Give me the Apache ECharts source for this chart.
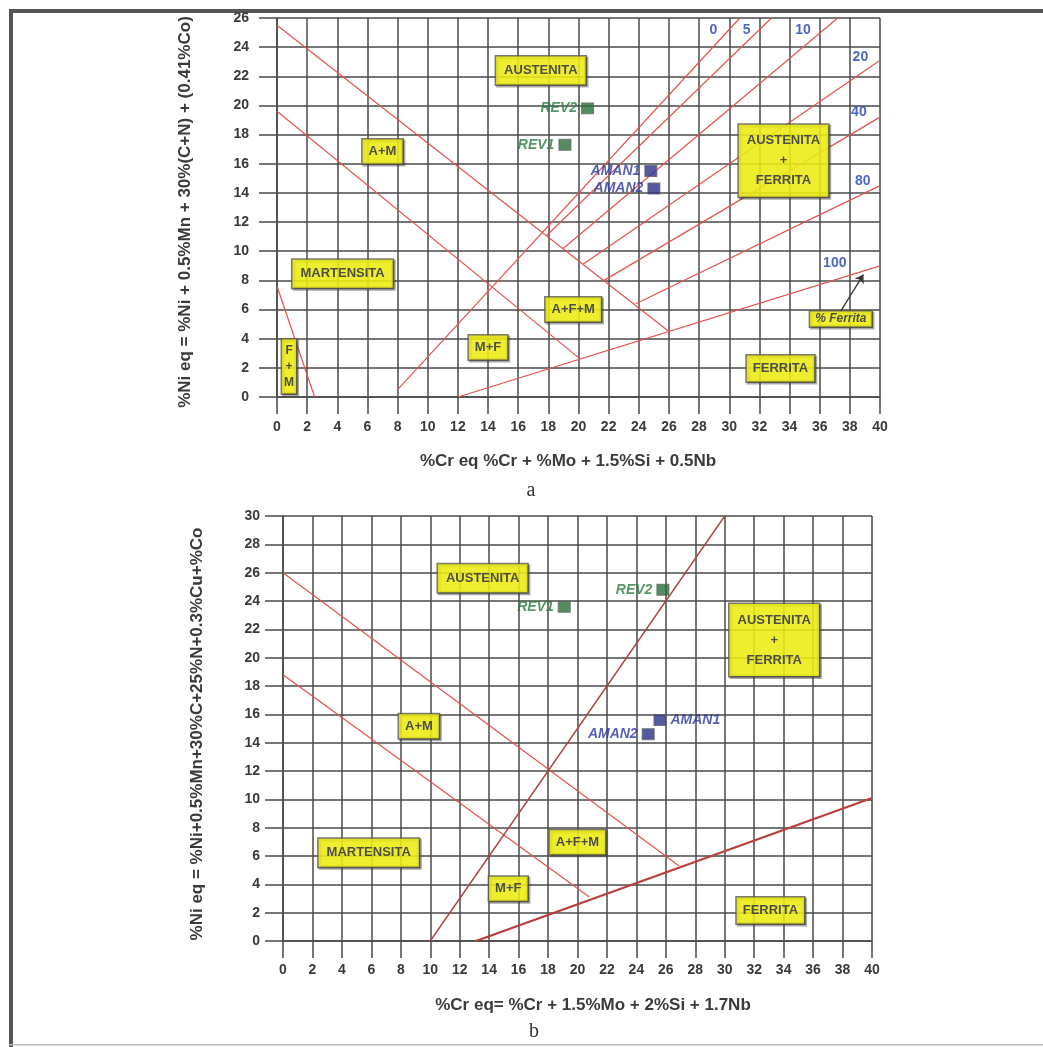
<!DOCTYPE html>
<html><head><meta charset="utf-8">
<script src="https://cdn.jsdelivr.net/npm/echarts@6/dist/echarts.min.js"></script>
<style>html,body{margin:0;padding:0;background:#fff}#c{width:1043px;height:1047px}</style>
</head><body><div id="c"></div>
<script>
// ---------- axis ranges / ticks ----------
const xMin = 0, xMax = 40, xStep = 2;
const topYMax = 26, bottomYMax = 30, yStep = 2;

// ---------- chart a (top) boundary lines [x,y] ----------
const topUpperBoundary = [[0, 25.5], [26, 4.5]];
const topLowerBoundary = [[0, 19.6], [20, 2.7]];
const topFMBoundary = [[0, 7.6], [2.5, 0]];
const topFerrite0 = [[8, 0.5], [30.7, 26]];
const topFerrite5 = [[17.9, 11.1], [32.8, 26]];
const topFerrite10 = [[19.0, 10.2], [37.2, 26]];
const topFerrite20 = [[20.3, 9.1], [40, 23.1]];
const topFerrite40 = [[21.7, 8.0], [40, 19.2]];
const topFerrite80 = [[23.8, 6.4], [40, 14.5]];
const topFerrite100 = [[12, 0], [40, 9.0]];
const topArrow = [[37.4, 5.9], [38.9, 8.4]];

// ferrite % labels (chart a)
const ferriteLevels = ['0', '5', '10', '20', '40', '80', '100'];
const ferriteLabelX = [28.95, 31.15, 34.9, 38.7, 38.6, 38.85, 37.0];
const ferriteLabelY = [25.2, 25.2, 25.2, 23.3, 19.55, 14.8, 9.2];

// samples
const sampleNames = ['REV1', 'REV2', 'AMAN1', 'AMAN2'];
const topSampleX = [19.1, 20.6, 24.8, 25.0];
const topSampleY = [17.3, 19.8, 15.5, 14.3];
const bottomSampleX = [19.1, 25.8, 25.6, 24.8];
const bottomSampleY = [23.6, 24.8, 15.6, 14.6];

// region labels chart a
const topRegionNames = ['AUSTENITA', 'A+M', 'AUSTENITA\n+\nFERRITA', 'MARTENSITA', 'F\n+\nM', 'M+F', 'A+F+M', 'FERRITA', '% Ferrita'];
const topRegionX = [17.5, 7.0, 33.6, 4.35, 0.8, 14.0, 19.65, 33.4, 37.4];
const topRegionY = [22.4, 16.85, 16.2, 8.45, 2.1, 3.4, 6.0, 1.95, 5.35];

// ---------- chart b (bottom) ----------
const bottomUpperBoundary = [[0, 26], [26.9, 5.3]];
const bottomLowerBoundary = [[0, 18.8], [20.8, 3.1]];
const bottomSteepBoundary = [[10, 0], [30, 30]];
const bottomFerriteBoundary = [[13.1, 0], [40, 10.1]];

const bottomRegionNames = ['AUSTENITA', 'AUSTENITA\n+\nFERRITA', 'A+M', 'MARTENSITA', 'A+F+M', 'M+F', 'FERRITA'];
const bottomRegionX = [13.56, 33.36, 9.23, 5.82, 20.0, 15.3, 33.1];
const bottomRegionY = [25.6, 21.24, 15.16, 6.23, 6.97, 3.68, 2.16];

// ---------- texts ----------
const topXTitle = '%Cr eq %Cr + %Mo + 1.5%Si + 0.5Nb';
const topYTitle = '%Ni eq = %Ni + 0.5%Mn + 30%(C+N) + (0.41%Co)';
const bottomXTitle = '%Cr eq= %Cr + 1.5%Mo + 2%Si + 1.7Nb';
const bottomYTitle = '%Ni eq = %Ni+0.5%Mn+30%C+25%N+0.3%Cu+%Co';

// ---------- styles ----------
const gridColor = '#4a4a4a';
const redLine = '#e2544e';
const sans = '"Liberation Sans", Arial, sans-serif';

function axisX(gi, labelMargin) {
  return {
    type: 'value', gridIndex: gi, min: xMin, max: xMax, interval: xStep,
    axisLine: { show: true, lineStyle: { color: gridColor, width: 1.5 } },
    axisTick: { show: true, length: 17, lineStyle: { color: gridColor, width: 1.5 } },
    splitLine: { show: true, lineStyle: { color: gridColor, width: 1.5 } },
    axisLabel: { margin: labelMargin, color: '#3a3a3a', fontFamily: sans, fontWeight: 'bold', fontSize: 14 }
  };
}
function axisY(gi, max, labelMargin) {
  return {
    type: 'value', gridIndex: gi, min: 0, max: max, interval: yStep,
    axisLine: { show: true, lineStyle: { color: gridColor, width: 1.5 } },
    axisTick: { show: true, length: 18, lineStyle: { color: gridColor, width: 1.5 } },
    splitLine: { show: true, lineStyle: { color: gridColor, width: 1.5 } },
    axisLabel: { margin: labelMargin, color: '#3a3a3a', fontFamily: sans, fontWeight: 'bold', fontSize: 14 }
  };
}

function lineSeries(data, gi, color, width) {
  return {
    type: 'line', xAxisIndex: gi, yAxisIndex: gi, data: data, symbol: 'none',
    silent: true, z: 3, animation: false,
    lineStyle: { color: color, width: width }
  };
}

const boxLabel = {
  show: true, position: 'inside', formatter: '{b}', color: '#25254f',
  fontFamily: sans, fontWeight: 'bold', fontSize: 13, lineHeight: 16, align: 'center',
  backgroundColor: '#ffff10', borderColor: '#5a5a48', borderWidth: 1.5, padding: [6, 8],
  shadowColor: 'rgba(60,60,60,0.55)', shadowOffsetX: 1.5, shadowOffsetY: 1.5, shadowBlur: 0
};

function regionItem(name, x, y) {
  const item = { name: name, value: [x, y] };
  if (name.indexOf('\n+\n') >= 0 && name.length > 6) {
    item.label = { lineHeight: 20, padding: [6, 8] };
  } else if (name === 'F\n+\nM') {
    item.label = { lineHeight: 16, padding: [3, 2], fontSize: 12 };
  } else if (name === '% Ferrita') {
    item.label = { fontStyle: 'italic', fontSize: 12, lineHeight: 13, padding: [1, 5] };
  } else if (name === 'FERRITA') {
    item.label = { padding: [5, 6] };
  } else if (name === 'A+M' || name === 'M+F' || name === 'A+F+M') {
    item.label = { padding: [4, 6] };
  }
  return item;
}

function regionSeries(names, xs, ys, gi) {
  return {
    type: 'scatter', xAxisIndex: gi, yAxisIndex: gi, symbol: 'rect', symbolSize: 1,
    itemStyle: { color: 'rgba(0,0,0,0)' }, silent: true, z: 6,
    data: names.map((n, i) => regionItem(n, xs[i], ys[i])),
    label: boxLabel
  };
}

function sampleSeries(xs, ys, gi, positions) {
  return {
    type: 'scatter', xAxisIndex: gi, yAxisIndex: gi, symbol: 'rect', symbolSize: [12, 11],
    silent: true, z: 7,
    data: sampleNames.map((n, i) => {
      const rev = n.indexOf('REV') === 0;
      return {
        name: n, value: [xs[i], ys[i]],
        itemStyle: { color: rev ? '#2a6e38' : '#28318a', borderColor: '#666', borderWidth: 1 },
        label: { position: positions[i], color: rev ? '#2c7a40' : '#2c3aa0' }
      };
    }),
    label: {
      show: true, formatter: '{b}', distance: 4, fontFamily: sans,
      fontStyle: 'italic', fontWeight: 'bold', fontSize: 14
    }
  };
}

const series = [
  lineSeries(topUpperBoundary, 0, redLine, 1.2),
  lineSeries(topLowerBoundary, 0, redLine, 1.2),
  lineSeries(topFMBoundary, 0, redLine, 1.2),
  lineSeries(topFerrite0, 0, redLine, 1.2),
  lineSeries(topFerrite5, 0, redLine, 1.2),
  lineSeries(topFerrite10, 0, redLine, 1.2),
  lineSeries(topFerrite20, 0, redLine, 1.2),
  lineSeries(topFerrite40, 0, redLine, 1.2),
  lineSeries(topFerrite80, 0, redLine, 1.2),
  lineSeries(topFerrite100, 0, redLine, 1.2),
  {
    type: 'lines', coordinateSystem: 'cartesian2d', xAxisIndex: 0, yAxisIndex: 0, silent: true, z: 7,
    symbol: ['none', 'arrow'], symbolSize: 8,
    lineStyle: { color: '#3a3a3a', width: 1.4, opacity: 1 },
    data: [{ coords: topArrow }]
  },
  {
    type: 'scatter', xAxisIndex: 0, yAxisIndex: 0, symbol: 'rect', symbolSize: 1,
    itemStyle: { color: 'rgba(0,0,0,0)' }, silent: true, z: 6,
    data: ferriteLevels.map((n, i) => ({ name: n, value: [ferriteLabelX[i], ferriteLabelY[i]] })),
    label: { show: true, position: 'inside', formatter: '{b}', color: '#2540b0', fontFamily: sans, fontWeight: 'bold', fontSize: 14 }
  },
  regionSeries(topRegionNames, topRegionX, topRegionY, 0),
  sampleSeries(topSampleX, topSampleY, 0, ['left', 'left', 'left', 'left']),

  lineSeries(bottomUpperBoundary, 1, redLine, 1.2),
  lineSeries(bottomLowerBoundary, 1, redLine, 1.2),
  lineSeries(bottomSteepBoundary, 1, '#b04440', 1.4),
  lineSeries(bottomFerriteBoundary, 1, '#b8403c', 2.2),
  regionSeries(bottomRegionNames, bottomRegionX, bottomRegionY, 1),
  sampleSeries(bottomSampleX, bottomSampleY, 1, ['left', 'left', 'right', 'left'])
];

const titleFont = 'bold 17px "Liberation Sans", Arial, sans-serif';
const option = {
  animation: false,
  backgroundColor: '#ffffff',
  grid: [
    { left: 277, top: 18, width: 603, height: 379, containLabel: false, outerBoundsMode: 'none' },
    { left: 283, top: 516, width: 589, height: 425, containLabel: false, outerBoundsMode: 'none' }
  ],
  xAxis: [axisX(0, 23), axisX(1, 22)],
  yAxis: [axisY(0, topYMax, 28), axisY(1, bottomYMax, 23)],
  series: series,
  graphic: [
    { type: 'rect', shape: { x: 9, y: 9, width: 4, height: 1038 }, style: { fill: '#555' }, silent: true },
    { type: 'rect', shape: { x: 9, y: 9, width: 1034, height: 4 }, style: { fill: '#555' }, silent: true },
    { type: 'rect', shape: { x: 9, y: 1044, width: 1034, height: 1.5 }, style: { fill: '#bbb' }, silent: true },
    { type: 'text', x: 568, y: 461, silent: true,
      style: { text: topXTitle, font: titleFont, fill: '#3a3a3a', textAlign: 'center', textVerticalAlign: 'middle' } },
    { type: 'text', x: 185, y: 212, rotation: Math.PI / 2, silent: true,
      style: { text: topYTitle, font: titleFont, fill: '#3a3a3a', textAlign: 'center', textVerticalAlign: 'middle' } },
    { type: 'text', x: 531, y: 491, silent: true,
      style: { text: 'a', font: '20px "Liberation Serif", serif', fill: '#333', textAlign: 'center', textVerticalAlign: 'middle' } },
    { type: 'text', x: 593, y: 1005, silent: true,
      style: { text: bottomXTitle, font: titleFont, fill: '#3a3a3a', textAlign: 'center', textVerticalAlign: 'middle' } },
    { type: 'text', x: 197, y: 734, rotation: Math.PI / 2, silent: true,
      style: { text: bottomYTitle, font: titleFont, fill: '#3a3a3a', textAlign: 'center', textVerticalAlign: 'middle' } },
    { type: 'text', x: 534, y: 1032, silent: true,
      style: { text: 'b', font: '20px "Liberation Serif", serif', fill: '#333', textAlign: 'center', textVerticalAlign: 'middle' } }
  ]
};

const chart = echarts.init(document.getElementById('c'), null, { renderer: 'canvas' });
chart.setOption(option);
</script>
</body></html>
